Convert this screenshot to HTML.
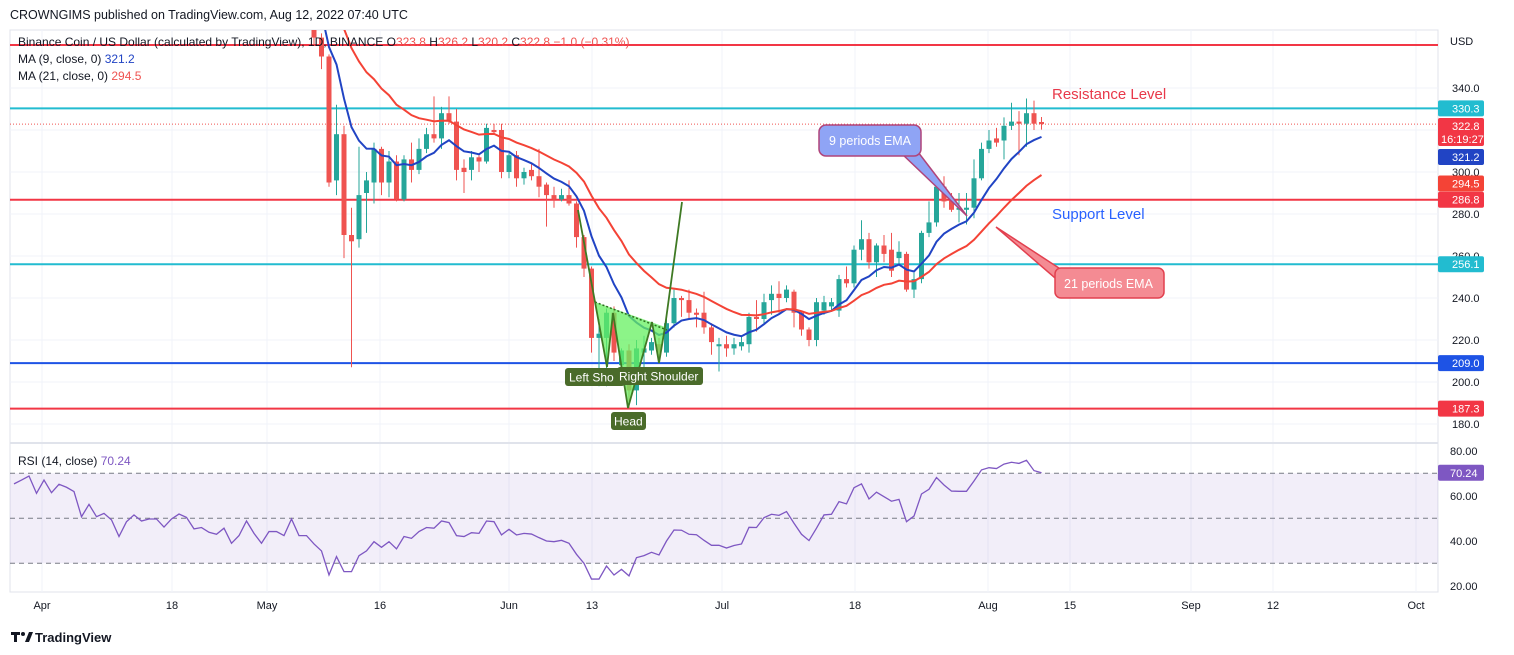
<!DOCTYPE html>
<html><head><meta charset="utf-8"><style>
body{margin:0;background:#fff;width:1514px;height:655px;overflow:hidden;font-family:"Liberation Sans",sans-serif}
svg{display:block}
text{font-family:"Liberation Sans",sans-serif}
</style></head><body>
<svg id="c" width="1514" height="655" xmlns="http://www.w3.org/2000/svg">
<rect x="0" y="0" width="1514" height="655" fill="#fff"/>
<text x="10" y="19" font-size="12.5" fill="#131722">CROWNGIMS published on TradingView.com, Aug 12, 2022 07:40 UTC</text>
<rect x="10" y="30" width="1428" height="562" fill="none" stroke="#e0e3eb"/>
<g id="grid"></g>
<rect x="10" y="473.3" width="1428" height="90" fill="#7e57c2" fill-opacity="0.1"/>
<g id="rsiLines"></g>
<g id="hlines"></g>
<g id="candles"></g>
<g id="emas"></g>
<g id="rsi"></g>
<!-- head & shoulders -->
<g>
<polygon points="595,302 607,367 613,313 628,408 652,322 659,363 665,327" fill="#66f060" fill-opacity="0.75"/>
<line x1="595" y1="302" x2="667" y2="330" stroke="#2e6b1e" stroke-dasharray="2,2" stroke-width="1.5"/>
<polyline points="578,210 595,302 607,367 613,313 628,408 652,322 659,363 665,327 682,202" fill="none" stroke="#3f7a24" stroke-width="1.8"/>
</g>
<g><rect x="565" y="368" width="60" height="18" rx="3" fill="#4a6b2a"/><text x="569" y="381.5" font-size="12" fill="#fff">Left Sho</text></g>
<g><rect x="617" y="367" width="86" height="18" rx="3" fill="#4a6b2a"/><text x="619" y="380.5" font-size="12" fill="#fff">Right Shoulder</text></g>
<g><rect x="611" y="412" width="35" height="18" rx="3" fill="#4a6b2a"/><text x="614" y="425.5" font-size="12" fill="#fff">Head</text></g>
<text x="1052" y="99" font-size="15" fill="#e8394a">Resistance Level</text>
<text x="1052" y="219" font-size="15" fill="#2962ff">Support Level</text>
<g>
<polygon points="900,152 918,152 967,216" fill="#8fa4f5" stroke="#b0447a" stroke-width="1.5"/>
<rect x="819" y="125" width="102" height="31" rx="7" fill="#8fa4f5" stroke="#b0447a" stroke-width="1.5"/>
<text x="829" y="145" font-size="12.5" fill="#fff">9 periods EMA</text></g>
<g>
<polygon points="1062,270 1062,284 996,227" fill="#f48b93" stroke="#e2404f" stroke-width="1.5"/>
<rect x="1055" y="268" width="109" height="30" rx="6" fill="#f48b93" stroke="#e2404f" stroke-width="1.5"/>
<text x="1064" y="288" font-size="12.5" fill="#fff">21 periods EMA</text></g>
<g>
<text x="18" y="46" font-size="12" fill="#131722">Binance Coin / US Dollar (calculated by TradingView), 1D, BINANCE  O<tspan fill="#ef5350">323.8</tspan>  H<tspan fill="#ef5350">326.2</tspan>  L<tspan fill="#ef5350">320.2</tspan>  C<tspan fill="#ef5350">322.8</tspan>  <tspan fill="#ef5350">−1.0 (−0.31%)</tspan></text>
<text x="18" y="63" font-size="12" fill="#131722">MA (9, close, 0)  <tspan fill="#2144c4">321.2</tspan></text>
<text x="18" y="80" font-size="12" fill="#131722">MA (21, close, 0)  <tspan fill="#ef5350">294.5</tspan></text>
<text x="18" y="465" font-size="12" fill="#131722">RSI (14, close)  <tspan fill="#7e57c2">70.24</tspan></text>
</g>
<line x1="10" y1="443" x2="1438" y2="443" stroke="#e0e3eb" stroke-width="2"/>
<g id="axis"></g>
<text x="1450" y="45" font-size="11" fill="#131722">USD</text>
<g id="xaxis"></g>
<g>
<rect x="11" y="632" width="9" height="3" fill="#131722"/><rect x="14" y="632" width="3" height="10" fill="#131722"/><circle cx="23" cy="634" r="2" fill="#131722"/><polygon points="25,642 29,632 33,632 29,642" fill="#131722"/>
<text x="35" y="642" font-size="13" font-weight="bold" fill="#131722">TradingView</text></g>
</svg>
<script>
const opens=[370,364,355,296,318,270,268,290,295,311,295,305,287,306,301,311,318,316,328,324,302,301,307,305,320,320,300,308,297,301,298,294,289,287,289,285,269,254,221,221,233,208,215,196,214,215,218,214,228,240,239,233,233,226,217,218,216,217,218,231,230,239,242,240,243,233,225,220,234,236,234,249,247,263,268,257,265,263,259,261,244,249,271,276,293,287,282,282,283,297,311,316,315,322,324,323,328,323.8];
const highs=[378,366,356,332,322,283,312,300,314,312,310,308,308,314,316,321,336,331,336,330,306,310,308,323,323,323,309,310,302,304,311,295,293,292,296,286,270,255,230,235,236,216,218,220,222,221,221,230,244,241,244,235,243,228,221,222,221,222,233,239,242,246,248,246,244,234,226,240,241,240,251,255,265,277,271,266,270,271,267,262,252,272,286,298,298,290,290,290,306,314,320,321,326,333,329,335,334,326.2];
const lows=[360,349,293,289,259,207,264,271,285,289,288,286,286,295,299,309,314,311,323,296,290,296,300,304,318,297,297,293,294,296,288,274,283,286,284,264,250,214,198,198,210,200,187,189,207,213,209,212,226,231,230,226,223,213,205,212,213,215,214,224,228,232,233,238,226,222,217,217,232,234,231,245,245,258,254,250,257,250,256,243,240,247,269,274,283,281,276,275,278,296,309,312,306,320,308,312,320,320.2];
const closes=[364,355,295,318,270,267,289,296,311,295,305,287,306,301,311,318,316,328,324,301,300,307,305,321,319,300,308,297,300,298,293,289,287,289,285,269,254,221,223,233,214,215,196,216,216,219,214,228,240,239,233,232,226,219,218,216,218,219,231,230,238,242,240,244,233,225,220,238,238,238,249,247,263,268,257,265,261,253,262,244,249,271,276,293,286,282,283,283,297,311,315,314,322,324,323,328,323,322.8];
const rsiValues=[65.3,67.0,68.8,61.1,67.0,61.4,65.1,63.8,61.9,50.7,56.2,50.7,52.2,49.3,41.9,48.5,51.5,48.8,49.7,49.7,46.1,49.7,51.9,50.4,45.3,45.9,43.8,42.9,45.6,38.9,42.3,48.8,43.3,38.9,44.1,44.1,42.3,49.7,42.3,42.3,38.6,35.5,24.8,33.0,26.3,26.3,33.4,35.5,39.6,37.1,39.6,36.4,41.9,41.1,44.1,45.9,45.6,48.8,48.1,42.3,41.9,43.6,43.3,48.8,48.5,42.6,45.1,42.6,43.3,43.0,41.4,39.9,39.6,40.2,38.9,34.0,30.0,23.0,23.0,28.8,24.8,27.3,24.4,32.5,33.4,34.9,33.7,39.9,44.8,44.7,42.9,42.7,40.2,38.0,38.0,36.8,37.9,38.6,46.0,45.9,50.3,51.8,51.3,53.0,47.8,42.9,40.1,45.6,51.5,51.8,57.4,56.4,63.6,65.3,58.6,61.6,59.6,57.6,58.4,48.5,51.0,60.8,62.9,68.1,64.8,62.1,62.0,62.0,66.6,71.5,72.5,72.1,74.1,74.9,74.4,75.8,71.2,70.24];
const priceTicks=[340,300,280,260,240,220,200,180];
const rsiTicks=[80,60,40,20];
const levelPrices=[360.5,330.3,286.8,256.1,209.0,187.3];
const levelColors=["#f23645","#22bcd0","#f23645","#22bcd0","#1e53e5","#f23645"];
const timeLabels=["Apr","18","May","16","Jun","13","Jul","18","Aug","15","Sep","12","Oct"];
const timeLabelX=[42,172,267,380,509,592,722,855,988,1070,1191,1273,1416];

const NS="http://www.w3.org/2000/svg";
const yP=p=>88+(340-p)*2.1;
const yR=v=>473.3+(70-v)*2.25;
const xB=i=>314+i*7.5;
function mk(tag,attrs,parent){const e=document.createElementNS(NS,tag);for(const k in attrs)e.setAttribute(k,attrs[k]);document.getElementById(parent).appendChild(e);return e;}

// grid
timeLabelX.forEach(x=>{const l=mk('line',{x1:x,y1:30,x2:x,y2:592,stroke:'#f0f3fa'},'grid');

});
[320].concat(priceTicks).forEach(p=>{const l=mk('line',{x1:10,y1:yP(p),x2:1438,y2:yP(p),stroke:'#f0f3fa'},'grid');

});
[70,50,30].forEach(v=>{const l=mk('line',{x1:10,y1:yR(v),x2:1438,y2:yR(v),stroke:'#787b86','stroke-dasharray':'5,4'},'rsiLines');

});

// horizontal levels
levelPrices.forEach((p,i)=>{const l=mk('line',{x1:10,y1:yP(p),x2:1438,y2:yP(p),stroke:levelColors[i],'stroke-width':2},'hlines');

});
const cur=mk('line',{x1:10,y1:yP(closes[closes.length-1]),x2:1438,y2:yP(closes[closes.length-1]),stroke:'#ef5350','stroke-dasharray':'1,2'},'hlines');



// candles
for(let i=0;i<closes.length;i++){
 const up=closes[i]>=opens[i];const col=up?'#26a69a':'#ef5350';const x=xB(i);
 const g=mk('g',{},'candles');
 
 
 const w=document.createElementNS(NS,'line');
 w.setAttribute('x1',x);w.setAttribute('x2',x);w.setAttribute('y1',Math.max(30,yP(highs[i])));w.setAttribute('y2',yP(lows[i]));w.setAttribute('stroke',col);g.appendChild(w);
 const top=Math.max(30,yP(Math.max(opens[i],closes[i])));const bot=yP(Math.min(opens[i],closes[i]));
 const r=document.createElementNS(NS,'rect');
 r.setAttribute('x',x-2.5);r.setAttribute('y',top);r.setAttribute('width',5);r.setAttribute('height',Math.max(1,bot-top));r.setAttribute('fill',col);g.appendChild(r);
}

// EMAs
function ema(n,seed){const a=2/(n+1);let e=seed;return closes.map(c=>(e=a*c+(1-a)*e));}
const e9=ema(9,385),e21=ema(21,400);
[[e9,'#2144c4','ema-9-line'],[e21,'#f44336','ema-21-line']].forEach(([arr,col,name])=>{
 const pts=arr.map((v,i)=>xB(i)+','+yP(v)).join(' ');
 const p=mk('polyline',{points:pts,fill:'none',stroke:col,'stroke-width':2,'clip-path':'url(#mainclip)'},'emas');
 
 
});
const cp=document.createElementNS(NS,'clipPath');cp.setAttribute('id','mainclip');
const cr=document.createElementNS(NS,'rect');cr.setAttribute('x',10);cr.setAttribute('y',30);cr.setAttribute('width',1428);cr.setAttribute('height',413);cp.appendChild(cr);
document.getElementById('c').appendChild(cp);

// RSI
const off=closes.length-rsiValues.length;
const rp=mk('polyline',{points:rsiValues.map((v,j)=>xB(j+off)+','+yR(v)).join(' '),fill:'none',stroke:'#7e57c2','stroke-width':1.3},'rsi');



// price axis
priceTicks.forEach(p=>{const t=mk('text',{x:1452,y:yP(p)+4,'font-size':11,fill:'#131722'},'axis');t.textContent=p.toFixed(1);

});
rsiTicks.forEach(v=>{const t=mk('text',{x:1450,y:yR(v)+4,'font-size':11,fill:'#131722'},'axis');t.textContent=v.toFixed(2);

});
const tagVals=[330.3,322.8,321.2,294.5,286.8,256.1,209.0,187.3];
const tagCols=['#22bcd0','#f23645','#2144c4','#f44336','#f23645','#22bcd0','#1e53e5','#f23645'];
tagVals.forEach((v,i)=>{let y=yP(v);if(i==1)y=118+8;if(i==2)y=157;
 const h=i==1?28:16;const top=i==1?118:y-8;
 const r=mk('rect',{x:1438,y:top,width:46,height:h,fill:tagCols[i],rx:2},'axis');
 
 
 const t=mk('text',{x:1452,y:(i==1?130:y+4),'font-size':11,fill:'#fff'},'axis');t.textContent=v.toFixed(1);
 
 
 if(i==1){const t2=mk('text',{x:1441,y:143,'font-size':11,fill:'#fff'},'axis');t2.textContent='16:19:27';
 
 }
});
const rr=mk('rect',{x:1438,y:yR(70.24)-8,width:46,height:16,fill:'#7e57c2',rx:2},'axis');


const rt=mk('text',{x:1450,y:yR(70.24)+4,'font-size':11,fill:'#fff'},'axis');rt.textContent='70.24';



// time axis
timeLabels.forEach((s,i)=>{const t=mk('text',{x:timeLabelX[i],y:609,'font-size':11,fill:'#131722','text-anchor':'middle'},'xaxis');t.textContent=s;

});
</script>
</body></html>
